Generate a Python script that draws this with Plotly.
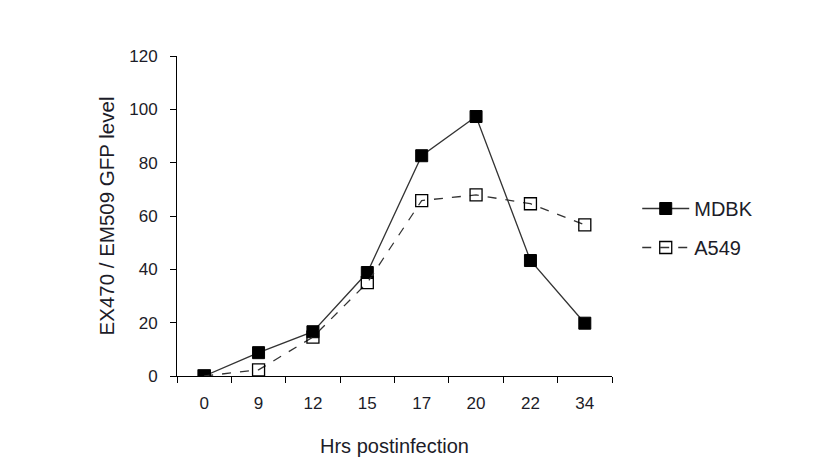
import plotly.graph_objects as go

hours = ["0", "9", "12", "15", "17", "20", "22", "34"]
mdbk = [0, 8.75, 16.6, 38.8, 82.6, 97.3, 43.3, 19.8]
a549 = [0, 2.3, 14.6, 35.0, 65.8, 67.9, 64.6, 56.7]
y_ticks = [0, 20, 40, 60, 80, 100, 120]

fig = go.Figure()
fig.add_trace(go.Scatter(
    x=hours, y=mdbk, name="MDBK", mode="lines+markers",
    line=dict(color="#333333", width=1.3),
    marker=dict(symbol="square", size=12, color="black", line=dict(color="black", width=1)),
    legendgroup="a",
))
fig.add_trace(go.Scatter(
    x=hours, y=a549, name="A549", mode="lines+markers",
    line=dict(color="#333333", width=1.3, dash="dash"),
    marker=dict(symbol="square-open", size=12, color="black", line=dict(width=1.3)),
    legendgroup="b",
))

fam = "Liberation Sans, Arial, sans-serif"
txt = "#1c1c28"
font = dict(family=fam, size=17, color=txt)

fig.update_layout(
    width=824, height=469,
    margin=dict(l=177, r=212, t=56, b=93),
    plot_bgcolor="white", paper_bgcolor="white",
    font=font,
    showlegend=True,
    legend=dict(x=1.058, y=0.4625, xanchor="left", yanchor="middle",
                tracegroupgap=10, itemwidth=47, font=dict(family=fam, size=20, color=txt),
                bgcolor="rgba(0,0,0,0)"),
    xaxis=dict(
        type="category", categoryorder="array", categoryarray=hours,
        range=[-0.5, 7.5], showline=True, linecolor="black", linewidth=1,
        ticks="outside", tickson="boundaries", ticklen=6, tickcolor="black",
        showgrid=False, zeroline=False, ticklabelstandoff=12,
        title=dict(text="Hrs postinfection", standoff=26, font=dict(family=fam, size=20, color=txt)),
        tickfont=dict(family=fam, size=17, color=txt),
    ),
    yaxis=dict(
        range=[0, 120], tickvals=y_ticks, showline=True, linecolor="black", linewidth=1,
        ticks="outside", ticklen=6, tickcolor="black", showgrid=False, zeroline=False,
        ticklabelstandoff=9,
        title=dict(text="EX470 / EM509 GFP level", standoff=9, font=dict(family=fam, size=20.5, color=txt)),
        tickfont=dict(family=fam, size=17, color=txt),
    ),
)

fig.write_html("out.html")
